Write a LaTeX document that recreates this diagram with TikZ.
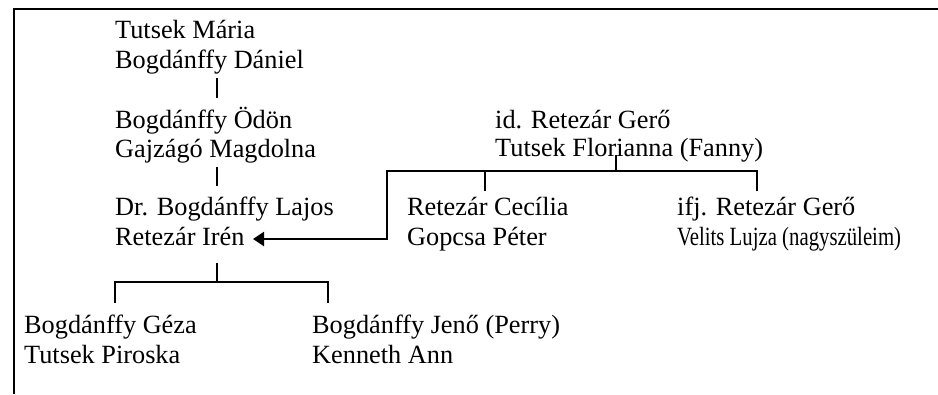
\documentclass[tikz,border=0pt]{standalone}
\usepackage{fontspec}
\setmainfont{Liberation Serif}
\usetikzlibrary{arrows.meta}
\begin{document}
\begin{tikzpicture}[x=1pt,y=-1pt,
  person/.style={anchor=base west, inner sep=0pt, font=\fontsize{26.3}{31}\selectfont},
  link/.style={line width=2.4pt},
  frame/.style={line width=1.4pt}]
\useasboundingbox (0,0) rectangle (938,394);
% frame
\coordinate (fb) at (14,394);
\coordinate (fc) at (14,9);
\coordinate (fr) at (938,9);
\draw[frame] (fb) -- (fc) -- (fr);
% people
\node[person] (m1) at (115,38) {Tutsek Mária};
\node[person] (m2) at (115,68) {Bogdánffy Dániel};
\node[person] (o1) at (115,128) {Bogdánffy Ödön};
\node[person] (o2) at (115,157) {Gajzágó Magdolna};
\node[person] (l1) at (115,215) {Dr. Bogdánffy Lajos};
\node[person] (l2) at (115,245) {Retezár Irén};
\node[person] (g1) at (495,128) {id. Retezár Gerő};
\node[person] (g2) at (495,156) {Tutsek Florianna (Fanny)};
\node[person] (c1) at (407,215) {Retezár Cecília};
\node[person] (c2) at (407,245) {Gopcsa Péter};
\node[person] (f1) at (677,215) {ifj. Retezár Gerő};
\node[person] (f2) at (677,245) {\scalebox{0.79}[1]{Velits Lujza (nagyszüleim)}};
\node[person] (b1) at (24,333) {Bogdánffy Géza};
\node[person] (b2) at (24,363) {Tutsek Piroska};
\node[person] (j1) at (312,333) {Bogdánffy Jenő (Perry)};
\node[person] (j2) at (312,363) {Kenneth Ann};
% connector points
\coordinate (t1a) at (217,78);  \coordinate (t1b) at (217,98);
\coordinate (t2a) at (217,167); \coordinate (t2b) at (217,186);
\coordinate (gt) at (616,155);  \coordinate (gb) at (616,171);
\coordinate (cl) at (387,171);  \coordinate (ct) at (485,171); \coordinate (cb) at (485,191);
\coordinate (ft) at (757,171);  \coordinate (fbm) at (757,191);
\coordinate (ad) at (387,239);  \coordinate (tip) at (253,239);
\coordinate (lt) at (217,263);  \coordinate (lb) at (217,282);
\coordinate (bl) at (115,282);  \coordinate (bld) at (115,303);
\coordinate (br) at (328,282);  \coordinate (brd) at (328,303);
% connectors
\draw[link] (t1a) -- (t1b);
\draw[link] (t2a) -- (t2b);
\draw[link] (gt) -- (gb);
\draw[link] (ct) -- (cb);
\draw[link, line join=miter] (fbm) -- (ft) -- (cl);
\draw[link, line join=miter, -{Triangle[length=11pt,width=14pt]}] (ft) -- (cl) -- (ad) -- (tip);
\draw[link] (lt) -- (lb);
\draw[link, line join=miter] (bld) -- (bl) -- (br) -- (brd);
\end{tikzpicture}
\end{document}
